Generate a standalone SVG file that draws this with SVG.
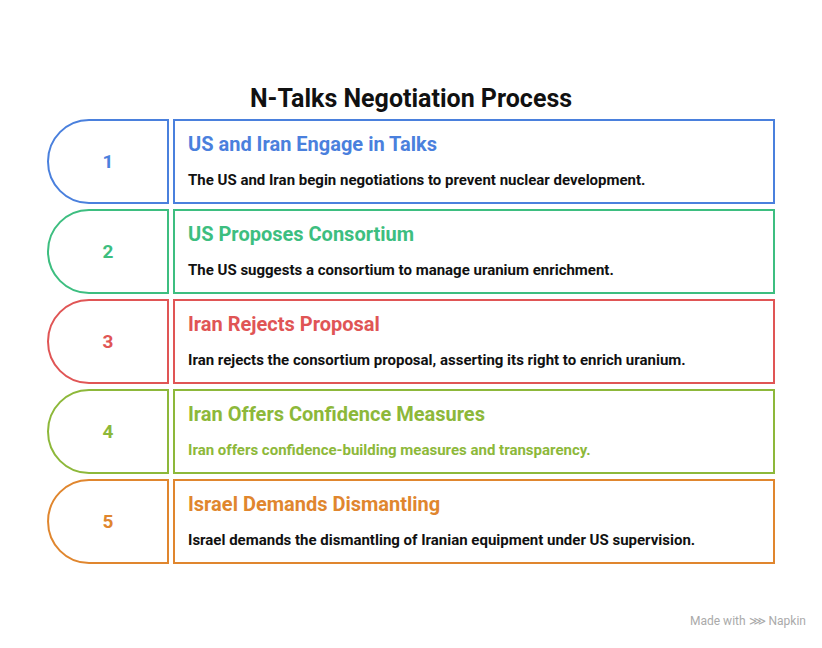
<svg xmlns="http://www.w3.org/2000/svg" width="822" height="648" viewBox="0 0 822 648">
<style>
text{font-family:Roboto,"Liberation Sans",sans-serif;font-weight:bold}
.s{fill:#fff;stroke-width:2}
.n{font-size:19px;text-anchor:middle}
.h{font-size:20px}
.d{font-size:15px;fill:#111}
</style>
<rect width="822" height="648" fill="#fff"/>
<text x="411" y="107" text-anchor="middle" font-size="25" fill="#111">N-Talks Negotiation Process</text>
<g id="step1">
<path class="s" stroke="#4A80DD" d="M168,120H89A41,41.5 0 0 0 89,203H168Z"/>
<rect class="s" stroke="#4A80DD" x="174" y="120" width="600" height="83"/>
<text class="n" x="108" y="168" fill="#4A80DD">1</text>
<text class="h" x="188" y="151" fill="#4A80DD">US and Iran Engage in Talks</text>
<text class="d" x="188" y="185">The US and Iran begin negotiations to prevent nuclear development.</text>
</g>
<g id="step2">
<path class="s" stroke="#3DBE80" d="M168,210H89A41,41.5 0 0 0 89,293H168Z"/>
<rect class="s" stroke="#3DBE80" x="174" y="210" width="600" height="83"/>
<text class="n" x="108" y="258" fill="#3DBE80">2</text>
<text class="h" x="188" y="241" fill="#3DBE80">US Proposes Consortium</text>
<text class="d" x="188" y="275">The US suggests a consortium to manage uranium enrichment.</text>
</g>
<g id="step3">
<path class="s" stroke="#E05555" d="M168,300H89A41,41.5 0 0 0 89,383H168Z"/>
<rect class="s" stroke="#E05555" x="174" y="300" width="600" height="83"/>
<text class="n" x="108" y="348" fill="#E05555">3</text>
<text class="h" x="188" y="331" fill="#E05555">Iran Rejects Proposal</text>
<text class="d" x="188" y="365">Iran rejects the consortium proposal, asserting its right to enrich uranium.</text>
</g>
<g id="step4">
<path class="s" stroke="#8DB83A" d="M168,390H89A41,41.5 0 0 0 89,473H168Z"/>
<rect class="s" stroke="#8DB83A" x="174" y="390" width="600" height="83"/>
<text class="n" x="108" y="438" fill="#8DB83A">4</text>
<text class="h" x="188" y="421" fill="#8DB83A">Iran Offers Confidence Measures</text>
<text class="d" x="188" y="455" style="fill:#8DB83A">Iran offers confidence-building measures and transparency.</text>
</g>
<g id="step5">
<path class="s" stroke="#E0862E" d="M168,480H89A41,41.5 0 0 0 89,563H168Z"/>
<rect class="s" stroke="#E0862E" x="174" y="480" width="600" height="83"/>
<text class="n" x="108" y="528" fill="#E0862E">5</text>
<text class="h" x="188" y="511" fill="#E0862E">Israel Demands Dismantling</text>
<text class="d" x="188" y="545">Israel demands the dismantling of Iranian equipment under US supervision.</text>
</g>
<g id="connectors"/>
<text x="690" y="625" font-size="12" fill="#aaa" style="font-weight:normal">Made with ⋙ Napkin</text>
</svg>
